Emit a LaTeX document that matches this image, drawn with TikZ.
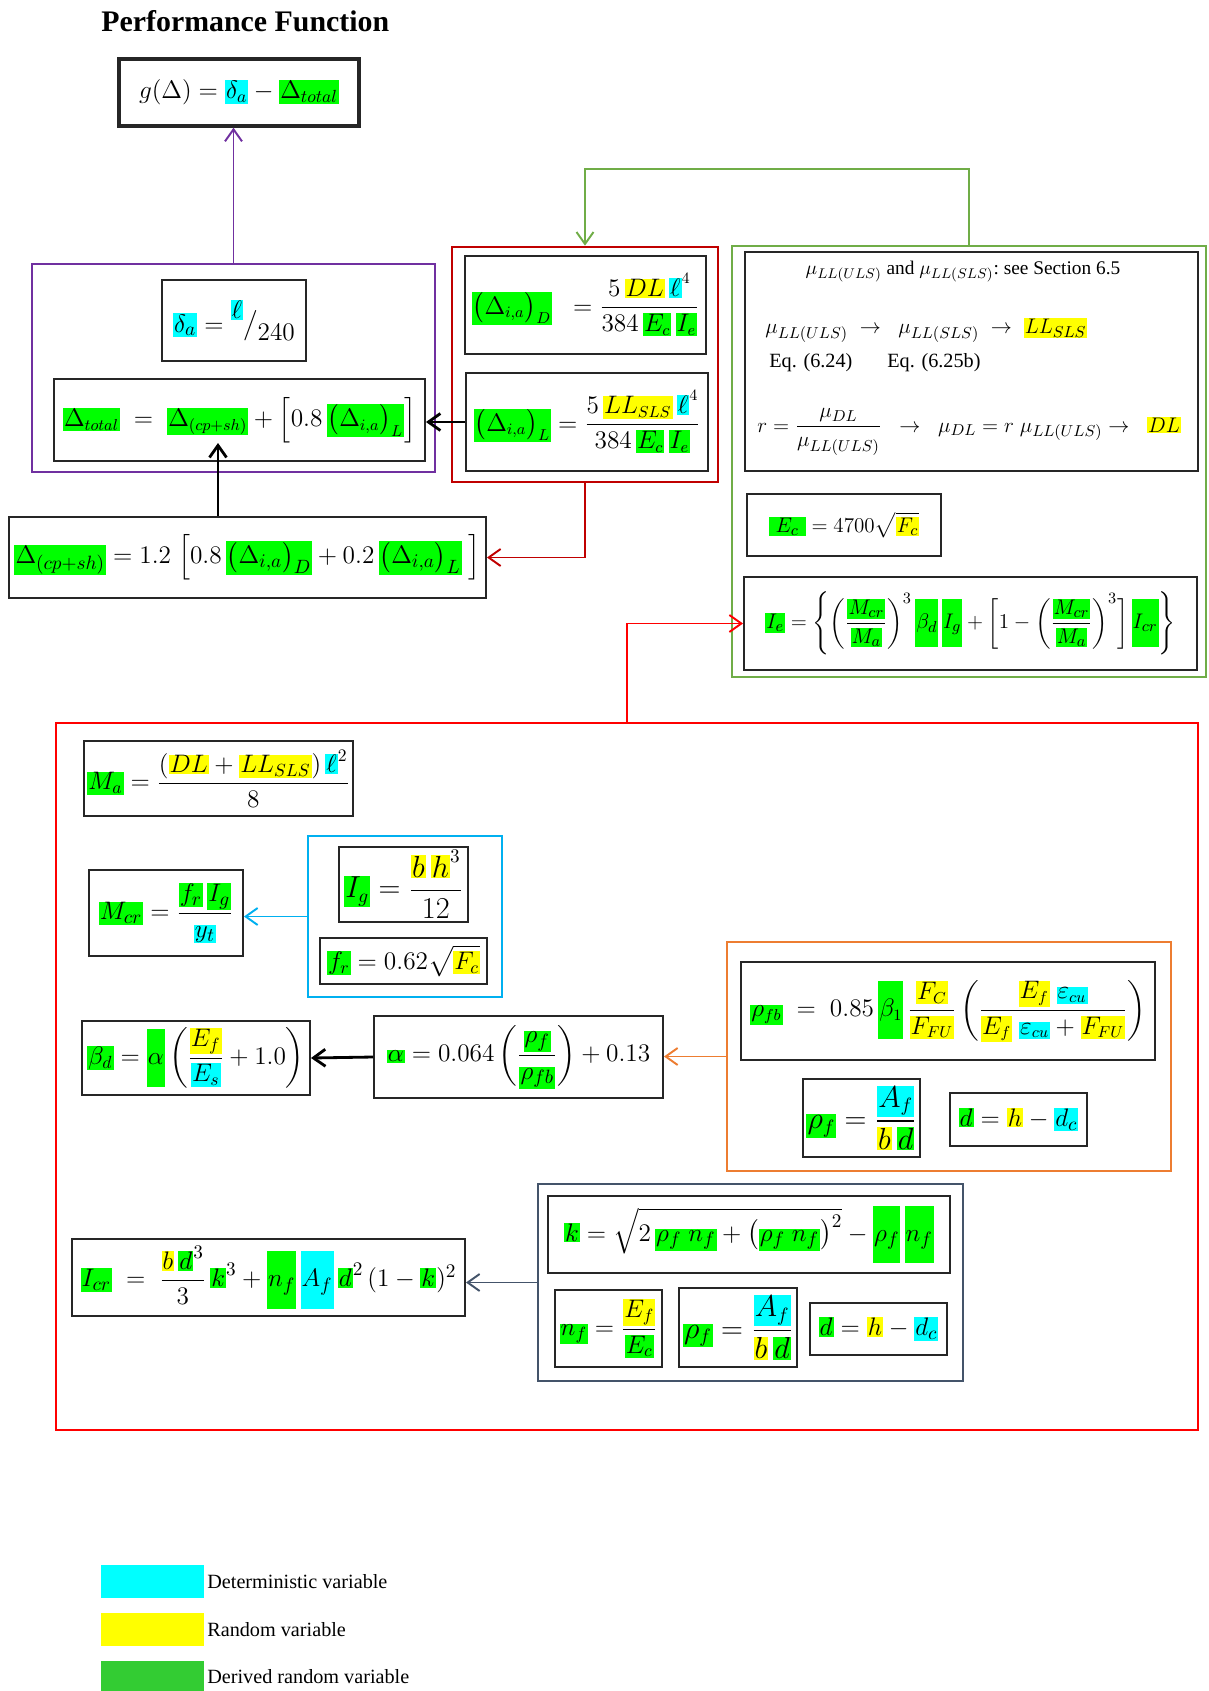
\documentclass[tikz,border=0pt]{standalone}
\usepackage{fontspec}
\setmainfont{Liberation Serif}
\usepackage{amsmath}
\usetikzlibrary{arrows.meta}

\definecolor{hlcyan}{HTML}{00FFFF}
\definecolor{hlyellow}{HTML}{FFFF00}
\definecolor{hlgreen}{HTML}{00FF00}
\definecolor{leggreen}{HTML}{33CC33}
\definecolor{cpurple}{HTML}{7030A0}
\definecolor{cdred}{HTML}{C00000}
\definecolor{cgreen}{HTML}{70AD47}
\definecolor{cred}{HTML}{FF0000}
\definecolor{cblue}{HTML}{00B0F0}
\definecolor{corange}{HTML}{ED7D31}
\definecolor{cslate}{HTML}{44546A}

% highlighted variables
\newcommand{\hlbox}[2]{{\setlength{\fboxsep}{0.6pt}\colorbox{#1}{$\displaystyle #2$}}}
\newcommand{\hlboxt}[2]{{\setlength{\fboxsep}{0.6pt}\colorbox{#1}{$\displaystyle\vphantom{\dfrac{M_{cr}}{M_a}}#2$}}}
\newcommand{\hlC}[1]{\hlbox{hlcyan}{#1}}
\newcommand{\hlY}[1]{\hlbox{hlyellow}{#1}}
\newcommand{\hlG}[1]{\hlbox{hlgreen}{#1}}
\newcommand{\hlGt}[1]{\hlboxt{hlgreen}{#1}}
\newcommand{\hlCt}[1]{\hlboxt{hlcyan}{#1}}

\tikzset{
  >={Straight Barb[length=2.4mm,width=3.4mm]},
  wh/.style 2 args={minimum width=#1*0.02cm, minimum height=#2*0.02cm},
  fs/.style={font=\fontsize{#1}{#1}\selectfont},
  eqbox/.style={draw=black!85, line width=1.1pt, inner sep=1pt, fs=15},
  eqtxt/.style={inner sep=0pt, fs=13},
  txt/.style={inner sep=0pt, font=\fontsize{11.5}{13}\selectfont},
  grp/.style={draw=#1, line width=1.5pt, inner sep=0pt},
  link/.style={line width=1.1pt},
  legkey/.style={inner sep=0pt, wh={103}{33}},
}

\begin{document}
\begin{tikzpicture}[x=0.02cm, y=-0.02cm]
\useasboundingbox (0,0) rectangle (1208,1691);

% Title
\node[anchor=west, inner sep=0pt, font=\fontsize{17}{19}\selectfont\bfseries] (title) at (101,21) {Performance Function};

% Nodes
\node[eqbox, fs=14.5, line width=1.9pt, wh={240}{67}] (gfun) at (239,92.5) {$g(\Delta) = \hlC{\delta_a} - \hlG{\Delta_{total}}$};

\node[grp=cpurple, wh={403}{208}] (purplegrp) at (233.5,368) {};
\node[eqbox, wh={144}{81}] (deltaa) at (234,320.5) {$\hlC{\delta_a} = \raisebox{1.1ex}{\hlC{\ell}}\big/\raisebox{-0.7ex}{$240$}$};
\node[eqbox, fs=13.5, wh={371}{82}] (dtotal) at (239.5,420) {$\hlG{\Delta_{total}} \;=\; \hlG{\Delta_{(cp+sh)}} + \Big[0.8\,\hlG{\big(\Delta_{i,a}\big)_L}\Big]$};

\node[grp=cdred, wh={266}{235}] (redgrp) at (585,364.5) {};
\node[eqbox, fs=13.5, wh={241}{98}] (deltaD) at (585.5,305) {$\hlG{\big(\Delta_{i,a}\big)_D}\;\; = \dfrac{5\,\hlY{DL}\,\hlC{\ell}^4}{384\,\hlG{E_c}\,\hlG{I_e}}$};
\node[eqbox, fs=13.5, wh={242}{98}] (deltaL) at (587,422) {$\hlG{\big(\Delta_{i,a}\big)_L} = \dfrac{5\,\hlY{LL_{SLS}}\,\hlC{\ell}^4}{384\,\hlG{E_c}\,\hlG{I_e}}$};

\node[eqbox, wh={477}{81}] (dcpsh) at (247.5,557.5) {$\hlG{\Delta_{(cp+sh)}} = 1.2\;\Big[0.8\,\hlG{\big(\Delta_{i,a}\big)_D} + 0.2\,\hlG{\big(\Delta_{i,a}\big)_L}\;\Big]$};

\node[grp=cgreen, wh={474}{431}] (greengrp) at (969,461.5) {};
\node[eqbox, wh={453}{219}] (llbox) at (971.5,361.5) {};
\node[txt, font=\fontsize{11}{13}\selectfont] (llnote) at (963,272) {$\mu_{LL(ULS)}$ and $\mu_{LL(SLS)}$:\ see Section 6.5};
\node[eqtxt, anchor=west] (llchain) at (765,330) {$\mu_{LL(ULS)} \;\rightarrow\;\; \mu_{LL(SLS)} \;\rightarrow\; \hlY{LL_{SLS}}$};
\node[txt, anchor=west] (eqa) at (769,363) {Eq. (6.24)};
\node[txt, anchor=west] (eqb) at (887,363) {Eq. (6.25b)};
\node[eqtxt, anchor=west] (dlchain) at (757,432) {$r = \dfrac{\mu_{DL}}{\mu_{LL(ULS)}} \;\;\rightarrow\;\; \mu_{DL} = r\;\mu_{LL(ULS)} \rightarrow\;\; \hlY{DL}$};
\node[eqbox, fs=13, wh={194}{62}] (ec) at (844,525) {$\hlG{\;E_c\;} = 4700\sqrt{\hlY{F_c}}$};
\node[eqbox, fs=13, wh={453}{93}] (ie) at (970.5,623.5) {$\hlG{I_e} = \Bigg\{\bigg(\dfrac{\hlG{M_{cr}}}{\hlG{M_a}}\bigg)^{3}\,\hlGt{\beta_d}\,\hlGt{I_g} + \bigg[1-\bigg(\dfrac{\hlG{M_{cr}}}{\hlG{M_a}}\bigg)^{3}\bigg]\,\hlGt{I_{cr}}\Bigg\}$};

\node[grp=cred, wh={1142}{707}] (bigred) at (627,1076.5) {};
\node[eqbox, fs=14.5, wh={269}{75}] (ma) at (218.5,778.5) {$\hlG{M_a} = \dfrac{(\hlY{DL} + \hlY{LL_{SLS}})\,\hlC{\ell}^2}{8}$};
\node[grp=cblue, wh={194}{161}] (bluegrp) at (405,916.5) {};
\node[eqbox, fs=16, wh={129}{75}] (ig) at (403.5,884.5) {$\hlG{I_g} = \dfrac{\hlY{b}\,\hlY{h}^3}{12}$};
\node[eqbox, fs=14, wh={167}{46}] (fr) at (403.5,961) {$\hlG{f_r} = 0.62\sqrt{\hlY{F_c}}$};
\node[eqbox, wh={154}{86}] (mcr) at (166,913) {$\hlG{M_{cr}} = \dfrac{\hlG{f_r}\,\hlG{I_g}}{\hlC{y_t}}$};
\node[eqbox, fs=14.5, wh={228}{74}] (betad) at (196,1058) {$\hlG{\beta_d} = \hlGt{\alpha}\left(\dfrac{\hlY{E_f}}{\hlC{E_s}} + 1.0\right)$};
\node[eqbox, wh={289}{82}] (alpha) at (518.5,1057) {$\hlG{\alpha} = 0.064\left(\dfrac{\hlG{\rho_f}}{\hlG{\rho_{fb}}}\right) + 0.13$};
\node[grp=corange, wh={444}{229}] (orangegrp) at (949,1056.5) {};
\node[eqbox, fs=13.5, wh={414}{98}] (rhofb) at (948,1011) {$\hlG{\rho_{fb}} \;=\; 0.85\,\hlGt{\beta_1}\,\dfrac{\hlY{F_C}}{\hlY{F_{FU}}}\left(\dfrac{\hlY{E_f}\;\hlC{\varepsilon_{cu}}}{\hlY{E_f}\;\hlC{\varepsilon_{cu}} + \hlY{F_{FU}}}\right)$};
\node[eqbox, fs=16, wh={117}{78}] (rhof) at (861.5,1118) {$\hlG{\rho_f} = \dfrac{\hlC{A_f}}{\hlY{b}\,\hlG{d}}$};
\node[eqbox, wh={137}{53}] (dd) at (1018.5,1119.5) {$\hlG{d} = \hlY{h} - \hlC{d_c}$};
\node[eqbox, wh={393}{77}] (icr) at (268.5,1277.5) {$\hlG{I_{cr}} \;=\; \dfrac{\hlY{b}\,\hlG{d}^3}{3}\,\hlG{k}^3 + \hlGt{n_f}\,\hlCt{A_f}\,\hlG{d}^2\,(1-\hlG{k})^2$};
\node[grp=cslate, wh={425}{197}] (slategrp) at (750.5,1282.5) {};
\node[eqbox, wh={402}{77}] (kk) at (749,1234.5) {$\hlG{k} = \sqrt{2\,\hlG{\rho_f\;n_f} + \big(\hlG{\rho_f\;n_f}\big)^2} - \hlGt{\rho_f}\,\hlGt{n_f}$};
\node[eqbox, fs=14.5, wh={107}{77}] (nf) at (608.5,1328.5) {$\hlG{n_f} = \dfrac{\hlY{E_f}}{\hlG{E_c}}$};
\node[eqbox, fs=16, wh={118}{79}] (rhof2) at (738,1327.5) {$\hlG{\rho_f} = \dfrac{\hlC{A_f}}{\hlY{b}\,\hlG{d}}$};
\node[eqbox, wh={137}{52}] (dd2) at (878.5,1329) {$\hlG{d} = \hlY{h} - \hlC{d_c}$};

% Legend
\node[legkey, fill=hlcyan] (keydet) at (152.5,1581.5) {};
\node[legkey, fill=hlyellow] (keyrand) at (152.5,1629.5) {};
\node[legkey, fill=leggreen] (keyder) at (152.5,1677) {};
\node[txt, anchor=west, inner sep=1.5pt] (labdet) at (keydet.east) {Deterministic variable};
\node[txt, anchor=west, inner sep=1.5pt] (labrand) at (keyrand.east) {Random variable};
\node[txt, anchor=west, inner sep=1.5pt] (labder) at (keyder.east) {Derived random variable};

% Arrows
\coordinate (cpshtip) at (218,443);
\draw[->, link, cpurple] (purplegrp.north) -- (purplegrp.north |- gfun.south);
\draw[->, line width=1.6pt] (deltaL.west) -- (deltaL.west -| dtotal.east);
\draw[->, line width=1.6pt] (cpshtip |- dcpsh.north) -- (cpshtip);
\draw[->, link, cdred] (redgrp.south) |- (dcpsh.east);
\draw[->, link, cgreen] (greengrp.north) -- ++(0,-76) -| (redgrp.north);
\draw[->, link, cred] (bigred.north) |- (ie.west);
\draw[->, link, cblue] (bluegrp.west) -- (bluegrp.west -| mcr.east);
\draw[->, line width=1.6pt] (alpha.west) -- (betad.east);
\draw[->, link, corange] (orangegrp.west) -- (orangegrp.west -| alpha.east);
\draw[->, link, cslate] (slategrp.west) -- (slategrp.west -| icr.east);

\end{tikzpicture}
\end{document}
